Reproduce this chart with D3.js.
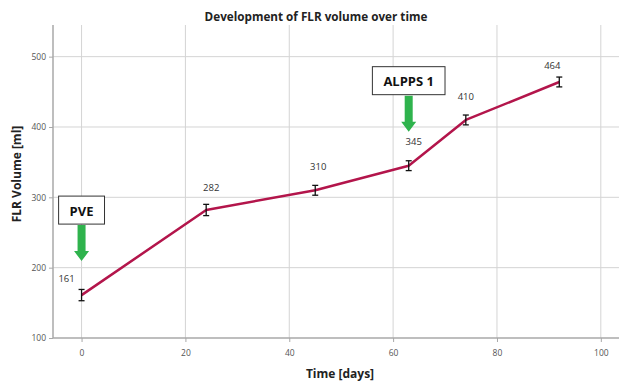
<!DOCTYPE html>
<html>
<head>
<meta charset="utf-8">
<script src="https://cdn.jsdelivr.net/npm/d3@7"></script>
<style>
    body { margin: 0; background: #fff; }
    #chart { width: 619px; height: 382px; }
    text { font-family: "Open Sans", "Noto Sans", sans-serif; }
</style>
</head>
<body>
<div id="chart"></div>
<script>
// data
const days = [0, 24, 45, 63, 74, 92];
const volumes = [161, 282, 310, 345, 410, 464];
const errors = [8, 8, 7, 7, 7, 7];
// small label nudges so numbers sit like the original
const labelNudge = [[-15, -16], [5, -22], [3, -24], [5, -24], [0, -23], [-7, -16]];
const xTicks = [0, 20, 40, 60, 80, 100];
const yTicks = [100, 200, 300, 400, 500];
const events = [{label: 'PVE', day: 0, value: 161}, {label: 'ALPPS 1', day: 63, value: 345}];

const width = 619, height = 382;
const margin = {top: 25, right: 0, bottom: 44, left: 53};

const svg = d3.select('#chart').append('svg')
    .attr('width', width)
    .attr('height', height);

const x = d3.scaleLinear()
    .domain([-5.5, 103.5])
    .range([margin.left, width - margin.right]);

const y = d3.scaleLinear()
    .domain([100, 545])
    .range([height - margin.bottom, margin.top]);

// title
svg.append('text')
    .attr('x', 316)
    .attr('y', 21)
    .attr('text-anchor', 'middle')
    .attr('font-size', '11.7px')
    .attr('font-weight', 'bold')
    .attr('fill', '#222')
    .text('Development of FLR volume over time');

// grid
svg.append('g')
    .selectAll('line')
    .data(xTicks)
    .enter().append('line')
    .attr('x1', d => x(d)).attr('x2', d => x(d))
    .attr('y1', margin.top).attr('y2', y(100))
    .attr('stroke', '#d4d4d4')
    .attr('stroke-width', 1);

svg.append('g')
    .selectAll('line')
    .data(yTicks.filter(d => d > 100))
    .enter().append('line')
    .attr('x1', margin.left).attr('x2', width)
    .attr('y1', d => y(d)).attr('y2', d => y(d))
    .attr('stroke', '#d4d4d4')
    .attr('stroke-width', 1);

// axes
let xAxis = svg.append('g')
    .attr('transform', `translate(0, ${y(100)})`)
    .call(d3.axisBottom(x).tickValues(xTicks).tickSize(4).tickPadding(8));

let yAxis = svg.append('g')
    .attr('transform', `translate(${margin.left}, 0)`)
    .call(d3.axisLeft(y).tickValues(yTicks).tickSize(4).tickPadding(3));

[xAxis, yAxis].forEach(g => {
    g.select('.domain').attr('stroke', '#a8a8a8').attr('stroke-width', 1.5);
    g.selectAll('.tick line').attr('stroke', '#a8a8a8');
    g.selectAll('.tick text')
        .attr('fill', '#555')
        .attr('font-size', '8.5px')
        .attr('font-family', '"Open Sans", "Noto Sans", sans-serif');
});
xAxis.select('.domain').attr('d', `M${margin.left},0H${width}`);
yAxis.select('.domain').attr('d', `M0,${margin.top}V${y(100)}`);

// axis titles
svg.append('text')
    .attr('x', 340)
    .attr('y', 378)
    .attr('text-anchor', 'middle')
    .attr('font-size', '12px')
    .attr('font-weight', 'bold')
    .attr('fill', '#222')
    .text('Time [days]');

svg.append('text')
    .attr('transform', 'translate(21, 174) rotate(-90)')
    .attr('text-anchor', 'middle')
    .attr('font-size', '12px')
    .attr('font-weight', 'bold')
    .attr('fill', '#222')
    .text('FLR Volume [ml]');

// line
const points = days.map((d, i) => ({day: d, value: volumes[i], err: errors[i], nudge: labelNudge[i]}));

svg.append('path')
    .datum(points)
    .attr('fill', 'none')
    .attr('stroke', '#b3154b')
    .attr('stroke-width', 2.5)
    .attr('stroke-linejoin', 'round')
    .attr('d', d3.line().x(d => x(d.day)).y(d => y(d.value)));

// error bars
let bars = svg.append('g').selectAll('g')
    .data(points)
    .enter().append('g')
    .attr('stroke', '#111')
    .attr('stroke-width', 1.3);

bars.append('line')
    .attr('x1', d => x(d.day)).attr('x2', d => x(d.day))
    .attr('y1', d => y(d.value - d.err)).attr('y2', d => y(d.value + d.err));
bars.append('line')
    .attr('x1', d => x(d.day) - 3).attr('x2', d => x(d.day) + 3)
    .attr('y1', d => y(d.value - d.err)).attr('y2', d => y(d.value - d.err));
bars.append('line')
    .attr('x1', d => x(d.day) - 3).attr('x2', d => x(d.day) + 3)
    .attr('y1', d => y(d.value + d.err)).attr('y2', d => y(d.value + d.err));

// value labels
svg.append('g').selectAll('text')
    .data(points)
    .enter().append('text')
    .attr('x', d => x(d.day) + d.nudge[0])
    .attr('y', d => y(d.value) + d.nudge[1])
    .attr('dy', '0.35em')
    .attr('text-anchor', 'middle')
    .attr('font-size', '9.5px')
    .attr('fill', '#333')
    .text(d => d.value);

// event annotations: boxed label with green arrow pointing down
events.forEach(ev => {
    let cx = x(ev.day);
    let tip = y(ev.value) - 34;
    let arrowTop = tip - 36;
    let g = svg.append('g');

    g.append('path')
        .attr('d', `M${cx - 4},${arrowTop} H${cx + 4} V${tip - 10} H${cx + 7.5} L${cx},${tip} L${cx - 7.5},${tip - 10} H${cx - 4} Z`)
        .attr('fill', '#2fb34d');

    let label = g.append('text')
        .attr('x', cx)
        .attr('y', arrowTop - 14)
        .attr('dy', '0.35em')
        .attr('text-anchor', 'middle')
        .attr('font-size', '13px')
        .attr('font-weight', 'bold')
        .attr('fill', '#111')
        .text(ev.label);

    let w = label.node().getComputedTextLength() + 22;
    g.insert('rect', 'text')
        .attr('x', cx - w / 2)
        .attr('y', arrowTop - 29)
        .attr('width', w)
        .attr('height', 28)
        .attr('fill', '#fff')
        .attr('stroke', '#333')
        .attr('stroke-width', 1);
});
</script>
</body>
</html>
